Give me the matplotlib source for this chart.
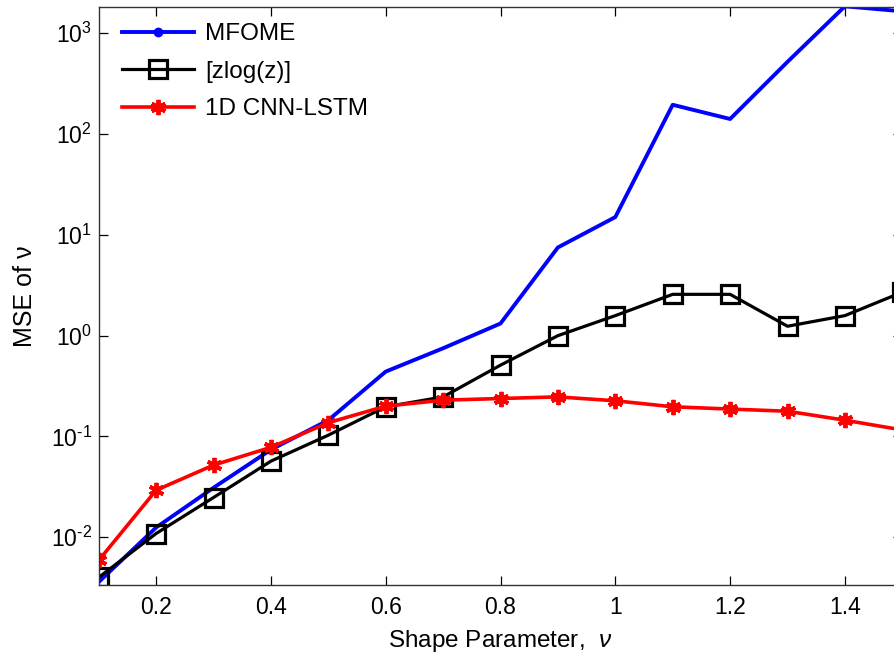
"""
MSE of the shape parameter nu for three estimators (log scale).
Writes out.png.
"""

import matplotlib
matplotlib.use("Agg")
import matplotlib.pyplot as plt
from matplotlib.lines import Line2D

plt.rcParams["font.family"] = ["Liberation Sans", "DejaVu Sans"]
plt.rcParams["mathtext.fontset"] = "custom"
plt.rcParams["mathtext.rm"] = "Liberation Sans"
plt.rcParams["mathtext.it"] = "Liberation Sans:italic"

# shape parameter values
nu = [0.1, 0.2, 0.3, 0.4, 0.5, 0.6, 0.7, 0.8, 0.9, 1.0, 1.1, 1.2, 1.3, 1.4, 1.5]

# MSE values
mse_mfome = [0.0036, 0.0125, 0.031, 0.074, 0.145, 0.44, 0.75, 1.32, 7.5, 15.0,
             195, 141, 520, 1850, 1650]
mse_zlogz = [0.0040, 0.0109, 0.0248, 0.0569, 0.103, 0.197, 0.247, 0.51, 1.0, 1.58,
             2.57, 2.57, 1.24, 1.58, 2.7]
mse_cnn = [0.0059, 0.0293, 0.052, 0.078, 0.137, 0.20, 0.229, 0.238, 0.247, 0.226,
           0.197, 0.187, 0.178, 0.145, 0.116]

labels = ["MFOME", "[zlog(z)]", "1D CNN-LSTM"]
x_ticks = [0.2, 0.4, 0.6, 0.8, 1.0, 1.2, 1.4]
x_ticklabels = ["0.2", "0.4", "0.6", "0.8", "1", "1.2", "1.4"]
y_exps = [-2, -1, 0, 1, 2, 3]

W, H = 894, 657
fig = plt.figure(figsize=(W / 100, H / 100), dpi=100)
# axes run past the right edge of the picture, as in the reference
ax = fig.add_axes([98.7 / W, 71.7 / H, (902.3 - 98.7) / W, (585.3 - 7) / H])

ax.plot(nu, mse_mfome, color="blue", lw=2.8)
h2, = ax.plot(nu, mse_zlogz, color="black", lw=2.3, marker="s", ms=13.5, mfc="none",
              mew=2.3)
h3, = ax.plot(nu, mse_cnn, color="red", lw=2.6, marker=(6, 2, 0), ms=11, mew=2.8)
# the blue line shows its dot marker only in the legend
h1 = Line2D([], [], color="blue", lw=2.8, marker="o", ms=6)

ax.set_yscale("log")
ax.set_xlim(0.1, 1.5)
ax.set_ylim(3.34e-3, 1820)
ax.set_xticks(x_ticks)
ax.set_xticklabels(x_ticklabels)
ax.set_yticks([10.0 ** e for e in y_exps])
# short hyphen in the exponent, like the original
ax.set_yticklabels([r"$10^{%s}$" % str(e).replace("-", "\u2010") for e in y_exps])
ax.minorticks_off()
ax.tick_params(direction="in", length=6.5, width=0.9, labelsize=16.5,
               top=True, right=True)
ax.tick_params(axis="x", pad=8)
ax.tick_params(axis="y", pad=5)
for s in ax.spines.values():
    s.set_linewidth(1.0)
    s.set_color("#333333")

ax.set_xlabel(r"Shape Parameter,  $\nu$", fontsize=17.5)
ax.set_ylabel("MSE of ν", fontsize=18)
ax.xaxis.set_label_coords(0.5, -0.074)
ax.yaxis.set_label_coords(-0.077, 0.5)

ax.legend([h1, h2, h3], labels, loc="upper left", bbox_to_anchor=(0.029, 0.972),
          frameon=False, fontsize=17.5, handlelength=2.95, handletextpad=0.48,
          labelspacing=0.64, borderpad=0, borderaxespad=0)

fig.savefig("out.png", dpi=100)
